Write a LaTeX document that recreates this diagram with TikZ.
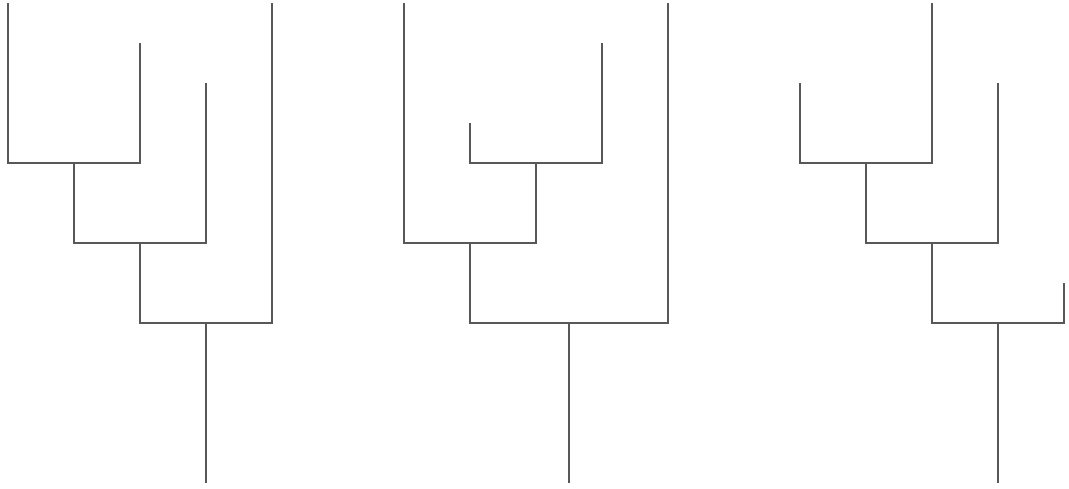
\documentclass[tikz,border=0pt]{standalone}
\usepackage{tikz}
\usetikzlibrary{positioning}
\definecolor{ink}{HTML}{585858}

\begin{document}
\begin{tikzpicture}[x=1pt, y=-1pt, branch/.style={ink, line width=1.3pt}]
    \useasboundingbox (0,0) rectangle (1069,488);
    % left tree: ladder to the right
    \coordinate (la) at (8,3);
    \coordinate (lb) at (140,43);
    \coordinate (lc) at (206,83);
    \coordinate (ld) at (272,3);
    \coordinate (l1) at (74,163);
    \coordinate (l2) at (140,243);
    \coordinate (l3) at (206,323);
    \coordinate (lr) at (206,483);
    \draw[branch] (la) |- (l1) -| (lb);
    \draw[branch] (l1) |- (l2) -| (lc);
    \draw[branch] (l2) |- (l3) -| (ld);
    \draw[branch] (l3) -- (lr);
    % middle tree: inner pair first
    \coordinate (ma) at (404,3);
    \coordinate (mb) at (470,123);
    \coordinate (mc) at (602,43);
    \coordinate (md) at (668,3);
    \coordinate (m1) at (536,163);
    \coordinate (m2) at (470,243);
    \coordinate (m3) at (569,323);
    \coordinate (mr) at (569,483);
    \draw[branch] (mb) |- (m1) -| (mc);
    \draw[branch] (ma) |- (m2) -| (m1);
    \draw[branch] (m2) |- (m3) -| (md);
    \draw[branch] (m3) -- (mr);
    % right tree: ladder with short last leaf
    \coordinate (ra) at (800,83);
    \coordinate (rb) at (932,3);
    \coordinate (rc) at (998,83);
    \coordinate (rd) at (1064,283);
    \coordinate (r1) at (866,163);
    \coordinate (r2) at (932,243);
    \coordinate (r3) at (998,323);
    \coordinate (rr) at (998,483);
    \draw[branch] (ra) |- (r1) -| (rb);
    \draw[branch] (r1) |- (r2) -| (rc);
    \draw[branch] (r2) |- (r3) -| (rd);
    \draw[branch] (r3) -- (rr);
  \end{tikzpicture}
\end{document}
